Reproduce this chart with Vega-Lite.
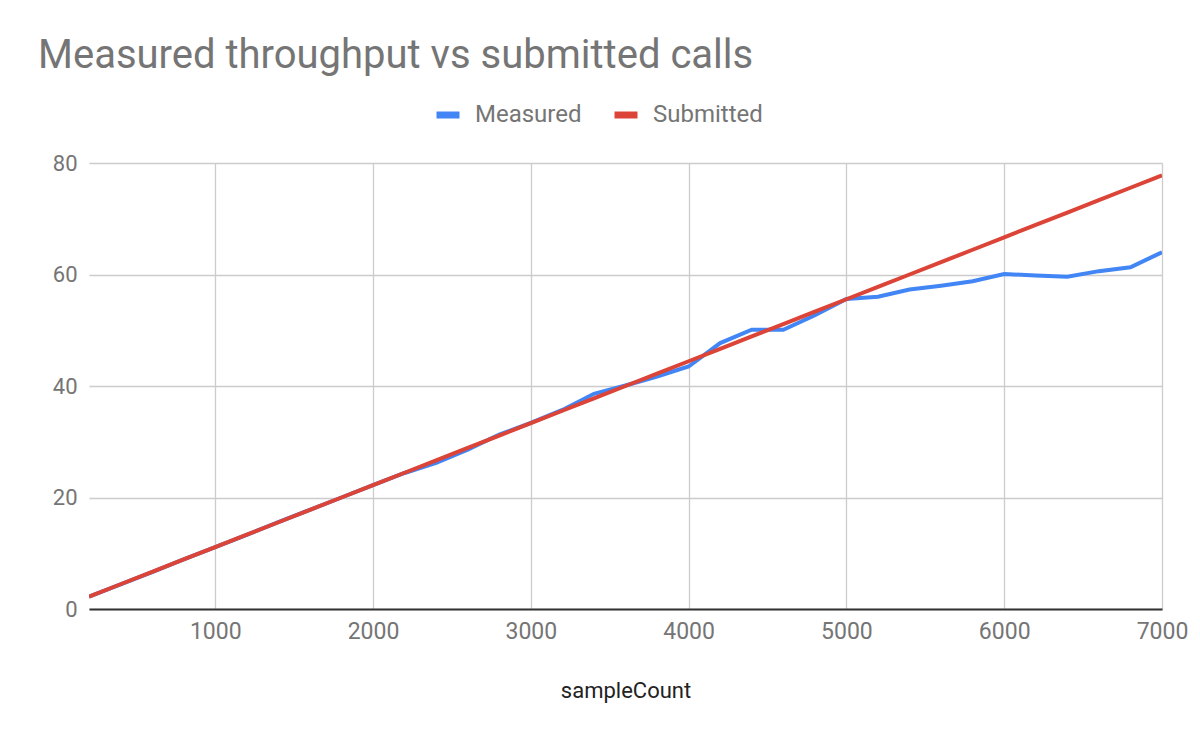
{
  "$schema": "https://vega.github.io/schema/vega-lite/v6.json",
  "width": 1073,
  "height": 446,
  "autosize": {"type": "none"},
  "padding": {"left": 89, "top": 163, "right": 38, "bottom": 133},
  "background": "white",
  "title": {
    "text": "Measured throughput vs submitted calls",
    "anchor": "start",
    "frame": "group",
    "dx": -51,
    "offset": 24,
    "font": "Roboto",
    "fontSize": 40,
    "fontWeight": "normal",
    "color": "#757575"
  },
  "config": {
    "view": {"stroke": null},
    "font": "Roboto"
  },
  "data": {
    "values": [
      {"sampleCount": 200, "series": "Measured", "value": 2.2},
      {"sampleCount": 400, "series": "Measured", "value": 4.4},
      {"sampleCount": 600, "series": "Measured", "value": 6.6},
      {"sampleCount": 800, "series": "Measured", "value": 8.9},
      {"sampleCount": 1000, "series": "Measured", "value": 11.1},
      {"sampleCount": 1200, "series": "Measured", "value": 13.3},
      {"sampleCount": 1400, "series": "Measured", "value": 15.6},
      {"sampleCount": 1600, "series": "Measured", "value": 17.8},
      {"sampleCount": 1800, "series": "Measured", "value": 20.0},
      {"sampleCount": 2000, "series": "Measured", "value": 22.2},
      {"sampleCount": 2200, "series": "Measured", "value": 24.4},
      {"sampleCount": 2400, "series": "Measured", "value": 26.2},
      {"sampleCount": 2600, "series": "Measured", "value": 28.6},
      {"sampleCount": 2800, "series": "Measured", "value": 31.3},
      {"sampleCount": 3000, "series": "Measured", "value": 33.4},
      {"sampleCount": 3200, "series": "Measured", "value": 35.7},
      {"sampleCount": 3400, "series": "Measured", "value": 38.6},
      {"sampleCount": 3600, "series": "Measured", "value": 40.1},
      {"sampleCount": 3800, "series": "Measured", "value": 41.7},
      {"sampleCount": 4000, "series": "Measured", "value": 43.5},
      {"sampleCount": 4200, "series": "Measured", "value": 47.7},
      {"sampleCount": 4400, "series": "Measured", "value": 50.1},
      {"sampleCount": 4600, "series": "Measured", "value": 50.1},
      {"sampleCount": 4800, "series": "Measured", "value": 52.7},
      {"sampleCount": 5000, "series": "Measured", "value": 55.6},
      {"sampleCount": 5200, "series": "Measured", "value": 56.0},
      {"sampleCount": 5400, "series": "Measured", "value": 57.3},
      {"sampleCount": 5600, "series": "Measured", "value": 58.0},
      {"sampleCount": 5800, "series": "Measured", "value": 58.8},
      {"sampleCount": 6000, "series": "Measured", "value": 60.1},
      {"sampleCount": 6200, "series": "Measured", "value": 59.8},
      {"sampleCount": 6400, "series": "Measured", "value": 59.6},
      {"sampleCount": 6600, "series": "Measured", "value": 60.6},
      {"sampleCount": 6800, "series": "Measured", "value": 61.3},
      {"sampleCount": 7000, "series": "Measured", "value": 64.0},
      {"sampleCount": 200, "series": "Submitted", "value": 2.22},
      {"sampleCount": 400, "series": "Submitted", "value": 4.44},
      {"sampleCount": 600, "series": "Submitted", "value": 6.67},
      {"sampleCount": 800, "series": "Submitted", "value": 8.89},
      {"sampleCount": 1000, "series": "Submitted", "value": 11.11},
      {"sampleCount": 1200, "series": "Submitted", "value": 13.33},
      {"sampleCount": 1400, "series": "Submitted", "value": 15.56},
      {"sampleCount": 1600, "series": "Submitted", "value": 17.78},
      {"sampleCount": 1800, "series": "Submitted", "value": 20.0},
      {"sampleCount": 2000, "series": "Submitted", "value": 22.22},
      {"sampleCount": 2200, "series": "Submitted", "value": 24.44},
      {"sampleCount": 2400, "series": "Submitted", "value": 26.67},
      {"sampleCount": 2600, "series": "Submitted", "value": 28.89},
      {"sampleCount": 2800, "series": "Submitted", "value": 31.11},
      {"sampleCount": 3000, "series": "Submitted", "value": 33.33},
      {"sampleCount": 3200, "series": "Submitted", "value": 35.56},
      {"sampleCount": 3400, "series": "Submitted", "value": 37.78},
      {"sampleCount": 3600, "series": "Submitted", "value": 40.0},
      {"sampleCount": 3800, "series": "Submitted", "value": 42.22},
      {"sampleCount": 4000, "series": "Submitted", "value": 44.44},
      {"sampleCount": 4200, "series": "Submitted", "value": 46.67},
      {"sampleCount": 4400, "series": "Submitted", "value": 48.89},
      {"sampleCount": 4600, "series": "Submitted", "value": 51.11},
      {"sampleCount": 4800, "series": "Submitted", "value": 53.33},
      {"sampleCount": 5000, "series": "Submitted", "value": 55.56},
      {"sampleCount": 5200, "series": "Submitted", "value": 57.78},
      {"sampleCount": 5400, "series": "Submitted", "value": 60.0},
      {"sampleCount": 5600, "series": "Submitted", "value": 62.22},
      {"sampleCount": 5800, "series": "Submitted", "value": 64.44},
      {"sampleCount": 6000, "series": "Submitted", "value": 66.67},
      {"sampleCount": 6200, "series": "Submitted", "value": 68.89},
      {"sampleCount": 6400, "series": "Submitted", "value": 71.11},
      {"sampleCount": 6600, "series": "Submitted", "value": 73.33},
      {"sampleCount": 6800, "series": "Submitted", "value": 75.56},
      {"sampleCount": 7000, "series": "Submitted", "value": 77.78}
    ]
  },
  "mark": {"type": "line", "strokeWidth": 4, "clip": true},
  "encoding": {
    "x": {
      "field": "sampleCount",
      "type": "quantitative",
      "scale": {"domain": [200, 7000], "nice": false, "zero": false},
      "axis": {
        "values": [1000, 2000, 3000, 4000, 5000, 6000, 7000],
        "format": "d",
        "title": "sampleCount",
        "titleFont": "Roboto",
        "titleFontSize": 22,
        "titleFontWeight": "normal",
        "titleColor": "#222222",
        "titlePadding": 37,
        "labelFont": "Roboto",
        "labelFontSize": 23,
        "labelColor": "#757575",
        "labelPadding": 11,
        "labelFlush": false,
        "ticks": false,
        "domain": true,
        "domainColor": "#333333",
        "domainWidth": 2,
        "grid": true,
        "gridColor": "#cccccc",
        "gridWidth": 1.3
      }
    },
    "y": {
      "field": "value",
      "type": "quantitative",
      "scale": {"domain": [0, 80], "nice": false},
      "axis": {
        "values": [0, 20, 40, 60, 80],
        "title": null,
        "labelFont": "Roboto",
        "labelFontSize": 22,
        "labelColor": "#757575",
        "labelPadding": 12,
        "ticks": false,
        "domain": false,
        "grid": true,
        "gridColor": "#cccccc",
        "gridWidth": 1.3
      }
    },
    "color": {
      "field": "series",
      "type": "nominal",
      "scale": {"domain": ["Measured", "Submitted"], "range": ["#4285F4", "#DB4437"]},
      "legend": {
        "title": null,
        "orient": "none",
        "direction": "horizontal",
        "legendX": 344,
        "legendY": -63,
        "symbolType": "stroke",
        "symbolSize": 529,
        "symbolStrokeWidth": 7,
        "labelFont": "Roboto",
        "labelFontSize": 24,
        "labelColor": "#757575",
        "labelOffset": 12,
        "columnPadding": 18,
        "symbolOffset": 0
      }
    }
  }
}
